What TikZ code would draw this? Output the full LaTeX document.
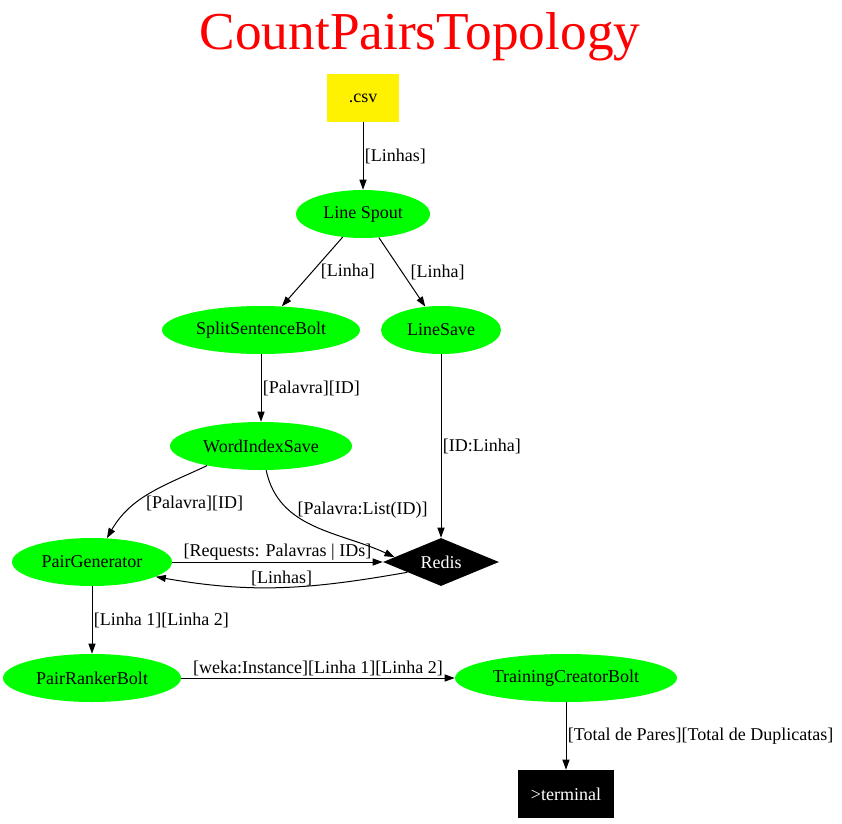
\documentclass[tikz,border=0pt]{standalone}
\usepackage{fontspec}
\setmainfont{Liberation Serif}
\usetikzlibrary{shapes.geometric,arrows.meta,positioning}

\begin{document}
\begin{tikzpicture}[
  x=0.75pt, y=-0.75pt,
  bolt/.style={ellipse, fill=green, inner sep=0pt, minimum height=36pt, font=\fontsize{13.5}{16}\selectfont},
  srcbox/.style={rectangle, fill=yellow, inner sep=0pt, minimum width=54pt, minimum height=36pt, font=\fontsize{13.5}{16}\selectfont},
  store/.style={diamond, fill=black, text=white, aspect=2.4, inner sep=0pt, minimum width=87pt, minimum height=36pt, font=\fontsize{13.5}{16}\selectfont},
  sink/.style={rectangle, fill=black, text=white, inner sep=0pt, minimum width=72pt, minimum height=36pt, font=\fontsize{13.5}{16}\selectfont},
  lbl/.style={inner sep=1pt, font=\fontsize{13.5}{16}\selectfont},
  edge/.style={line width=0.75pt, -{Triangle[length=7.5pt,width=5.25pt]}}
]
  \useasboundingbox (0,0) rectangle (842,824);
  % Title
  \node[text=red, font=\fontsize{40}{44}\selectfont] (title) at (420,37) {CountPairsTopology};
  % Source and spout
  \node[srcbox] (csv) at (363,98) {.csv};
  \node[bolt, minimum width=100.5pt] (spout) at (363,214) {Line Spout};
  % Bolts
  \node[bolt, minimum width=148.5pt] (split) at (261,330) {SplitSentenceBolt};
  \node[bolt, minimum width=90pt] (lsave) at (441,330) {LineSave};
  \node[bolt, minimum width=136.5pt] (wsave) at (261,446) {WordIndexSave};
  \node[bolt, minimum width=120pt] (pgen) at (92,562) {PairGenerator};
  \node[bolt, minimum width=133.5pt] (prank) at (92,678) {PairRankerBolt};
  \node[bolt, minimum width=166.5pt] (tcreate) at (566,678) {TrainingCreatorBolt};
  % Store and sink
  \node[store] (redis) at (441,562) {Redis};
  \node[sink] (term) at (566,794) {>terminal};

  % Edges
  \draw[edge] (csv) -- node[lbl, anchor=west] {[Linhas]} (spout);
  \draw[edge] (spout) -- node[lbl, anchor=west, xshift=5pt] {[Linha]} (split);
  \draw[edge] (spout) -- node[lbl, anchor=west, xshift=5pt] {[Linha]} (lsave);
  \draw[edge] (split) -- node[lbl, anchor=west] {[Palavra][ID]} (wsave);
  \draw[edge] (lsave) -- node[lbl, anchor=west] {[ID:Linha]} (redis);
  \draw[edge] (wsave.200) to[out=205, in=60] node[lbl, anchor=west, pos=0.64, xshift=6pt] {[Palavra][ID]} (pgen.58);
  \draw[edge] (wsave.282) to[out=-78, in=155] node[lbl, anchor=west, pos=0.3, xshift=5pt] {[Palavra:List(ID)]} (redis.174);
  \draw[edge] (pgen) -- node[lbl, anchor=south] {[Requests: Palavras | IDs]} (redis);
  \draw[edge] (redis.197) to[out=190, in=-10] node[lbl, anchor=south] {[Linhas]} (pgen.-13);
  \draw[edge] (pgen) -- node[lbl, anchor=west] {[Linha 1][Linha 2]} (prank);
  \draw[edge] (prank) -- node[lbl, anchor=south] {[weka:Instance][Linha 1][Linha 2]} (tcreate);
  \draw[edge] (tcreate) -- node[lbl, anchor=west] {[Total de Pares][Total de Duplicatas]} (term);
\end{tikzpicture}
\end{document}
